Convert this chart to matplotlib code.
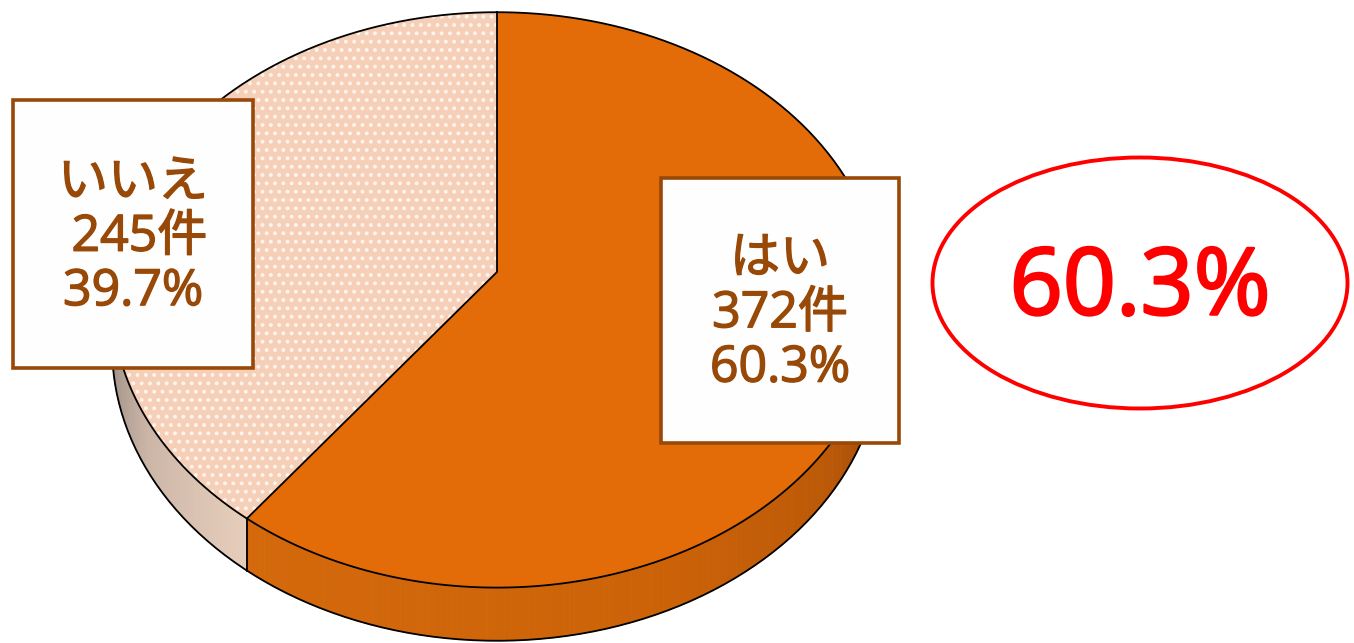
import numpy as np
import matplotlib.pyplot as plt
import matplotlib.patheffects as pe
from matplotlib.patches import Polygon, Rectangle, Ellipse
from matplotlib.colors import LinearSegmentedColormap

plt.rcParams['font.family'] = ['Open Sans', 'Noto Sans CJK JP', 'DejaVu Sans']
plt.rcParams['hatch.linewidth'] = 1.6

# survey result
labels = ['はい', 'いいえ']
counts = [372, 245]
percents = [60.3, 39.7]
count_pad = ['', ' ']
highlight = '60.3%'

total = sum(counts)
frac_yes = counts[0] / total
frac_no = counts[1] / total

# 3D pie geometry (pixels), simple perspective tilt
CX, CY = 497, 272
A, B, K = 383, 285, 0.097
DEPTH = 48

TEXT_COL = '#984807'


def project(theta, drop=0.0):
    # theta: radians, counter-clockwise from 12 o'clock
    u = -np.sin(theta)
    v = np.cos(theta)
    w = 1 + K * v
    return CX + A * u / w, CY - B * v / w + drop / w


def arc(t0, t1, drop=0.0, n=200):
    t = np.linspace(t0, t1, n)
    x, y = project(t, drop)
    return np.column_stack([x, y])


def side_strip(ax, t0, t1, stops, n=160):
    lo, hi = stops[0][0], stops[-1][0]
    cmap = LinearSegmentedColormap.from_list(
        's', [((a - lo) / (hi - lo), c) for a, c in stops])
    t = np.linspace(t0, t1, n + 1)
    for i in range(n):
        top = arc(t[i], t[i + 1], 0, 3)
        bot = arc(t[i + 1], t[i], DEPTH, 3)
        mid = np.degrees((t[i] + t[i + 1]) / 2)
        c = cmap(np.clip((mid - lo) / (hi - lo), 0, 1))
        ax.add_patch(Polygon(np.vstack([top, bot]), closed=True,
                             facecolor=c, edgecolor=c, linewidth=0.6, zorder=1))


fig = plt.figure(figsize=(13.54, 6.43), dpi=100)
ax = fig.add_axes([0, 0, 1, 1])
ax.set_xlim(0, 1354)
ax.set_ylim(643, 0)
ax.axis('off')

split = 2 * np.pi * frac_no

# sides
side_strip(ax, np.pi / 2, split,
           [(90, '#6f635c'), (100, '#9c8e85'), (120, '#cbb5a6'), (np.degrees(split), '#e6cdbb')])
side_strip(ax, split, 1.5 * np.pi,
           [(np.degrees(split), '#d4690c'), (200, '#cd6308'), (235, '#bb5908'),
            (255, '#9a4907'), (270, '#6a3206')])
bottom_rim = arc(np.pi / 2, 1.5 * np.pi, DEPTH)
ax.plot(bottom_rim[:, 0], bottom_rim[:, 1], color='black', lw=1.3, zorder=1.5)
sx0, sy0 = project(split)
sx1, sy1 = project(split, DEPTH)
ax.plot([sx0, sx1], [sy0, sy1], color='black', lw=1.3, zorder=1.5)

# top faces
apex = np.array([[CX, CY]])
yes_face = np.vstack([apex, arc(-2 * np.pi * frac_yes, 0, 0, 400)])
no_face = np.vstack([apex, arc(0, split, 0, 300)])
ax.add_patch(Polygon(yes_face, closed=True, facecolor='#e36c09', edgecolor='none', zorder=2))
ax.add_patch(Polygon(no_face, closed=True, facecolor='#f5cfb8', edgecolor='none', zorder=2))
ax.add_patch(Polygon(no_face, closed=True, facecolor='none', edgecolor='#fff4ec',
                     hatch='..', linewidth=0, zorder=2.1))

rim = arc(0, 2 * np.pi, 0, 600)
ax.plot(rim[:, 0], rim[:, 1], color='black', lw=1.3, zorder=3)
tx, ty = project(0.0)
ax.plot([tx, CX, sx0], [ty, CY, sy0], color='black', lw=1.3, zorder=3)

# data label boxes
boxes = [(661, 178, 238, 265), (13, 100, 240, 268)]
for (bx, by, bw, bh), lab, cnt, pct, pad in zip(boxes, labels, counts, percents, count_pad):
    ax.add_patch(Rectangle((bx, by), bw, bh, facecolor='#fefefe',
                           edgecolor=TEXT_COL, linewidth=2.6, zorder=5))
    ax.text(bx + bw / 2, by + bh / 2 + 4, f'{lab}\n{pad}{cnt}件\n{pct}%',
            ha='center', va='center', color=TEXT_COL, fontsize=36,
            linespacing=1.13, zorder=6,
            path_effects=[pe.withStroke(linewidth=1.0, foreground=TEXT_COL)])

# highlighted share
ax.add_patch(Ellipse((1140, 283), 415, 251, facecolor='none',
                     edgecolor='#ff0000', linewidth=2.8, zorder=5))
ax.text(1140, 290, highlight, ha='center', va='center', color='#ff0000',
        fontsize=67, zorder=6,
        path_effects=[pe.withStroke(linewidth=1.8, foreground='#ff0000')])

fig.savefig('out.png', dpi=100)
